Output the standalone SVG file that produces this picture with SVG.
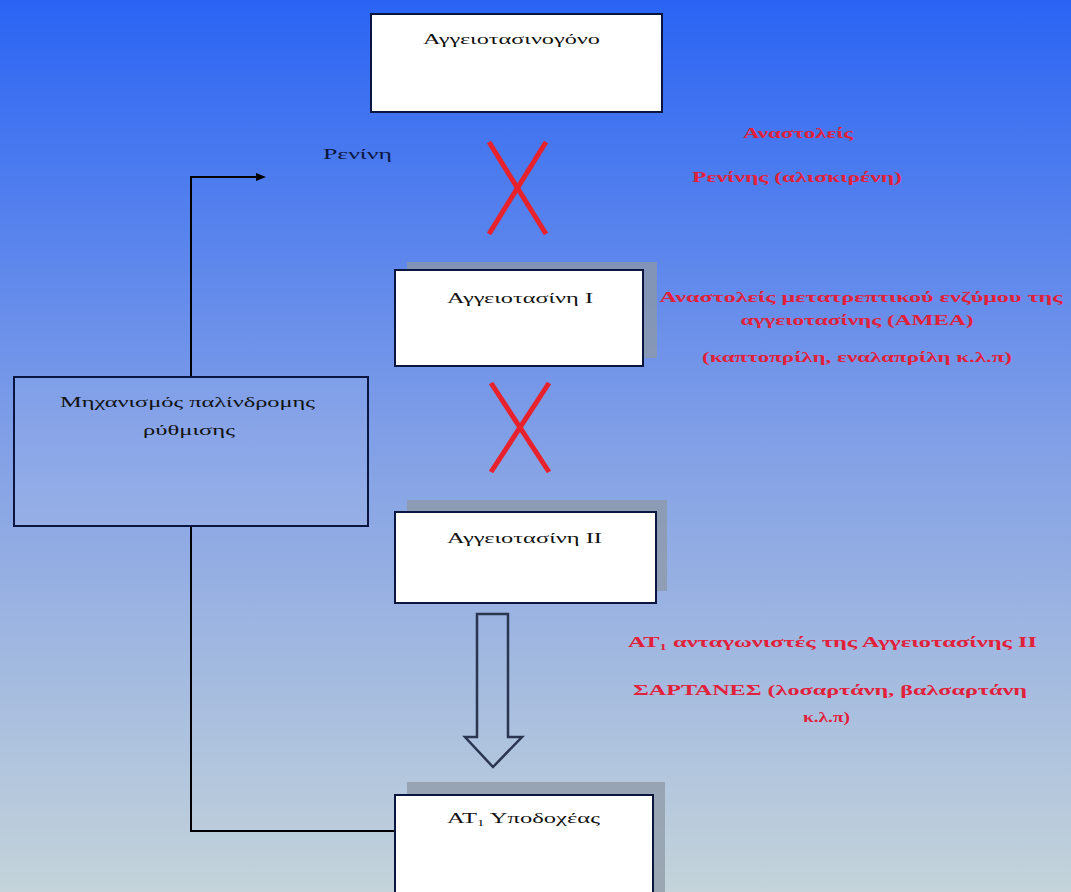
<svg xmlns="http://www.w3.org/2000/svg" width="1071" height="892" viewBox="0 0 1071 892">
<defs>
<linearGradient id="bg" x1="0" y1="0" x2="0" y2="1">
<stop offset="0" stop-color="#2a64f4"/>
<stop offset="0.5" stop-color="#82a0e6"/>
<stop offset="1" stop-color="#c4d4da"/>
</linearGradient>
<marker id="ah" viewBox="0 0 10 10" refX="8" refY="5" markerWidth="5" markerHeight="5" orient="auto">
<path d="M0,1 L10,5 L0,9 z" fill="#000"/>
</marker>
<style>
.box{fill:#fff;stroke:#0b1640;stroke-width:2}
.shadow{fill:#8d98a6;opacity:0.75}
.t{font-family:"Liberation Serif","DejaVu Serif",serif;font-size:15px;fill:#111}
.r{font-family:"Liberation Serif","DejaVu Serif",serif;font-size:15px;fill:#e3203a;font-weight:bold}
.x{stroke:#e8222c;stroke-width:5;fill:none}
.c{stroke:#000;stroke-width:2;fill:none}
</style>
</defs>
<rect width="1071" height="892" fill="url(#bg)"/>

<g id="connectors">
<polyline class="c" points="191,377 191,177 264,177" marker-end="url(#ah)"/>
<polyline class="c" points="191,526 191,831 395,831"/>
<path d="M477,614 H508 V737 H522 L493,767 L465,737 H477 Z" fill="none" stroke="#2a3550" stroke-width="2.5"/>
</g>

<g id="inhibit1">
<line class="x" x1="489" y1="142" x2="546" y2="234"/>
<line class="x" x1="546" y1="142" x2="489" y2="234"/>
</g>
<g id="inhibit2">
<line class="x" x1="491" y1="383" x2="549" y2="472"/>
<line class="x" x1="549" y1="383" x2="491" y2="472"/>
</g>

<g id="angiotensinogen">
<rect class="box" x="371" y="14" width="291" height="98"/>
<text class="t" x="423" y="44" textLength="177" lengthAdjust="spacingAndGlyphs">Αγγειοτασινογόνο</text>
</g>

<g id="renin">
<text class="t" x="323" y="159" fill="#0b1640" style="fill:#0b1640" textLength="69" lengthAdjust="spacingAndGlyphs">Ρενίνη</text>
</g>

<g id="renin-inhibitors">
<text class="r" x="798" y="138" text-anchor="middle" textLength="110" lengthAdjust="spacingAndGlyphs">Αναστολείς</text>
<text class="r" x="797" y="182" text-anchor="middle" textLength="210" lengthAdjust="spacingAndGlyphs">Ρενίνης (αλισκιρένη)</text>
</g>

<g id="angiotensin1">
<rect class="shadow" x="407" y="262" width="250" height="96"/>
<rect class="box" x="395" y="270" width="248" height="96"/>
<text class="t" x="447" y="303" textLength="146" lengthAdjust="spacingAndGlyphs">Αγγειοτασίνη Ι</text>
</g>

<g id="ace-inhibitors">
<text class="r" x="861" y="302" text-anchor="middle" textLength="403" lengthAdjust="spacingAndGlyphs">Αναστολείς μετατρεπτικού ενζύμου της</text>
<text class="r" x="857" y="325" text-anchor="middle" textLength="233" lengthAdjust="spacingAndGlyphs">αγγειοτασίνης (ΑΜΕΑ)</text>
<text class="r" x="857" y="362" text-anchor="middle" textLength="310" lengthAdjust="spacingAndGlyphs">(καπτοπρίλη, εναλαπρίλη κ.λ.π)</text>
</g>

<g id="feedback">
<rect x="14" y="377" width="354" height="149" fill="#ffffff" fill-opacity="0.08" stroke="#0b1640" stroke-width="2"/>
<text class="t" x="60" y="407" textLength="255" lengthAdjust="spacingAndGlyphs">Μηχανισμός παλίνδρομης</text>
<text class="t" x="143" y="435" textLength="92" lengthAdjust="spacingAndGlyphs">ρύθμισης</text>
</g>

<g id="angiotensin2">
<rect class="shadow" x="407" y="500" width="260" height="91"/>
<rect class="box" x="395" y="512" width="261" height="91"/>
<text class="t" x="447" y="543" textLength="155" lengthAdjust="spacingAndGlyphs">Αγγειοτασίνη ΙΙ</text>
</g>

<g id="arb">
<text class="r" x="628" y="647" textLength="409" lengthAdjust="spacingAndGlyphs">ΑΤ<tspan font-size="9" dy="3">1</tspan><tspan dy="-3"> ανταγωνιστές της Αγγειοτασίνης ΙΙ</tspan></text>
<text class="r" x="633" y="695" textLength="394" lengthAdjust="spacingAndGlyphs">ΣΑΡΤΑΝΕΣ (λοσαρτάνη, βαλσαρτάνη</text>
<text class="r" x="803" y="722" textLength="47" lengthAdjust="spacingAndGlyphs">κ.λ.π)</text>
</g>

<g id="at1-receptor">
<rect class="shadow" x="407" y="782" width="258" height="110"/>
<rect class="box" x="395" y="795" width="258" height="110"/>
<text class="t" x="447" y="823" textLength="153" lengthAdjust="spacingAndGlyphs">ΑΤ<tspan font-size="9" dy="3">1</tspan><tspan dy="-3"> Υποδοχέας</tspan></text>
</g>
</svg>
